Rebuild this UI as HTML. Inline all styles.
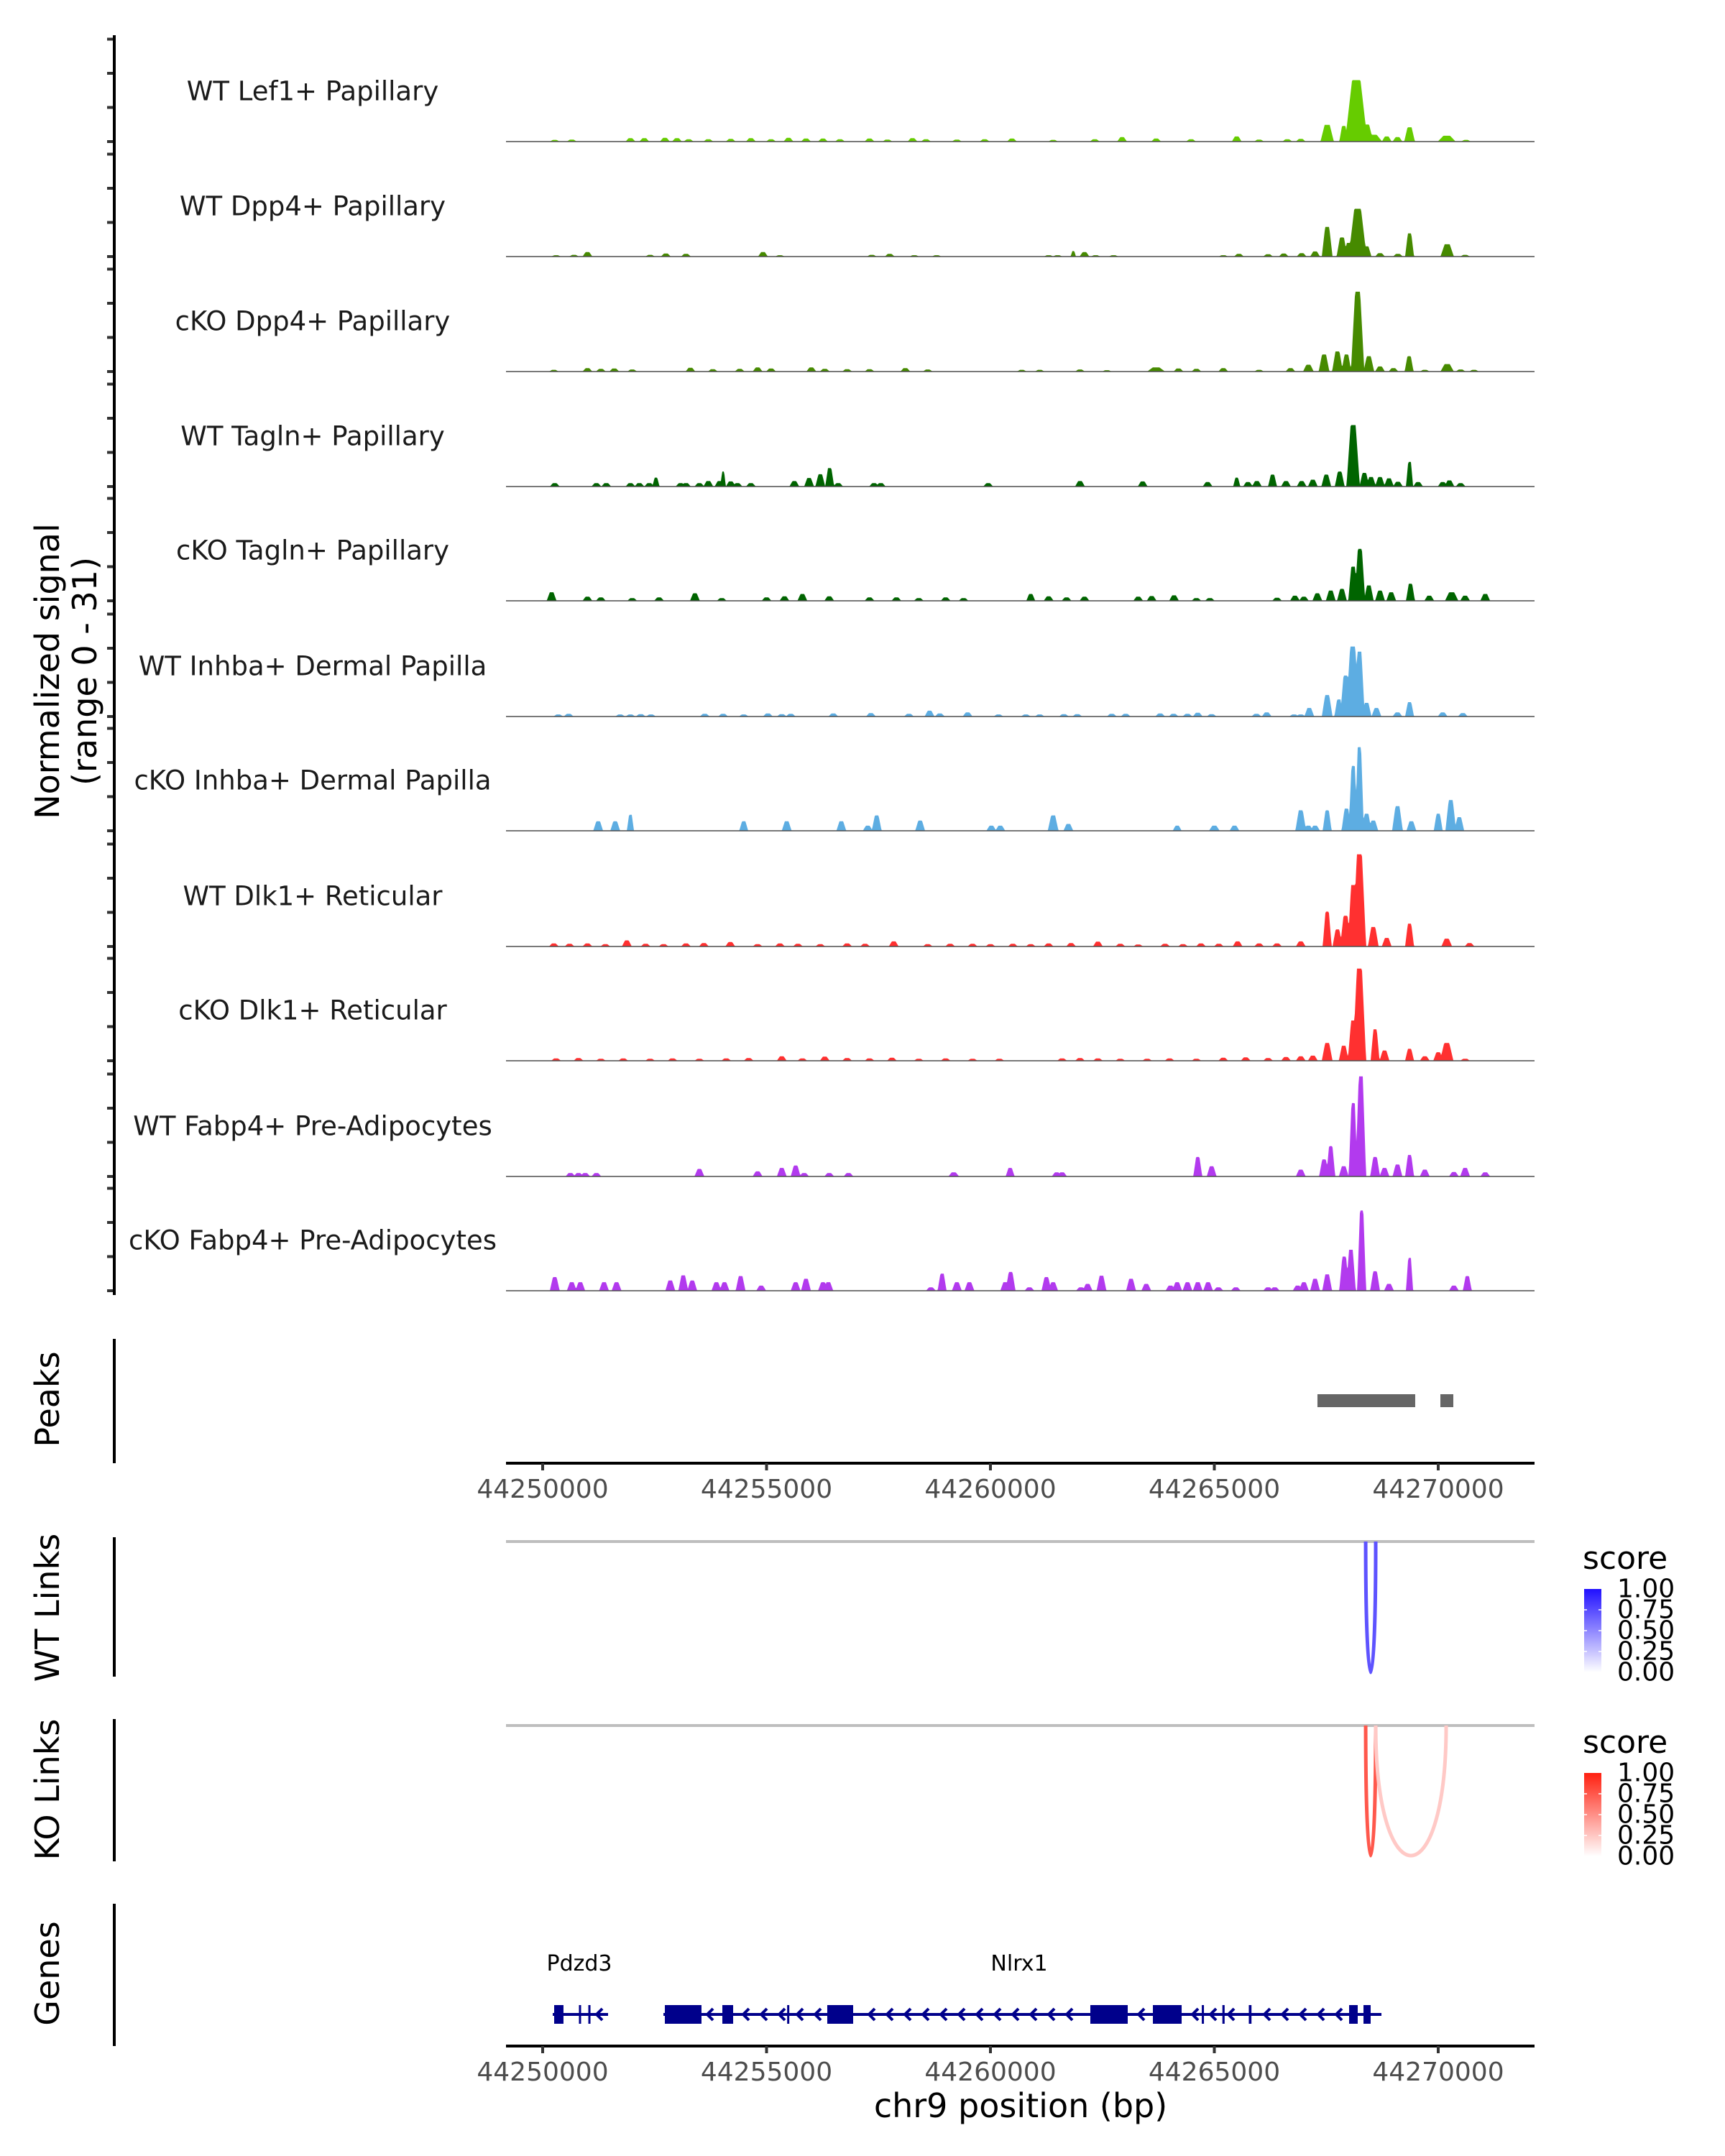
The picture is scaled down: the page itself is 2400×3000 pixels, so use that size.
<!DOCTYPE html>
<html><head><meta charset="utf-8">
<style>
html,body{margin:0;padding:0;background:#fff;}
svg{display:block;font-family:"DejaVu Sans","Liberation Sans",sans-serif;}
</style></head>
<body>
<svg id="chart" xmlns="http://www.w3.org/2000/svg" width="2400" height="3000" viewBox="0 0 2400 3000">
<rect x="0" y="0" width="2400" height="3000" fill="#fff"/>
<g id="tracks"></g>
<g id="left-axis"></g>
<text transform="translate(82,934) rotate(-90)" text-anchor="middle" font-size="46" fill="#000">Normalized signal</text>
<text transform="translate(134,934) rotate(-90)" text-anchor="middle" font-size="46" fill="#000">(range 0 - 31)</text>
<g id="peaks"></g>
<g id="xaxis1"></g>
<g id="links"></g>
<g id="genes"></g>
<g id="xaxis2"></g>
<text x="1420" y="2946" text-anchor="middle" font-size="46" fill="#000">chr9 position (bp)</text>
</svg>
<script>
// ---- data (positions in kb from 44,250,000; heights in normalized signal units) ----
const trackNames = ["WT Lef1+ Papillary","WT Dpp4+ Papillary","cKO Dpp4+ Papillary","WT Tagln+ Papillary","cKO Tagln+ Papillary","WT Inhba+ Dermal Papilla","cKO Inhba+ Dermal Papilla","WT Dlk1+ Reticular","cKO Dlk1+ Reticular","WT Fabp4+ Pre-Adipocytes","cKO Fabp4+ Pre-Adipocytes"];
const trackColors = ["#66cc00","#468a00","#468a00","#006400","#006400","#5dade2","#5dade2","#ff3030","#ff3030","#b23aee","#b23aee"];
const lef1Peaks = [[0.27,.5],[0.65,.6],[1.96,1],[2.27,1],[2.73,1.1],[3.0,1],[3.26,.7],[3.7,.7],[4.2,.8],[4.65,1],[5.1,.7],[5.49,1.1],[5.88,.9],[6.26,.9],[6.64,.7],[7.3,.9],[7.7,.6],[8.26,1],[8.56,.7],[9.25,.6],[9.87,.7],[10.48,.9],[11.4,.5],[12.33,.7],[12.94,1.3],[13.7,.9],[14.48,.7],[15.5,1.5],[16.0,.6],[16.63,.7],[16.93,.8],[17.52,4.9,.15],[17.89,4.6,.1],[18.17,18,.25],[18.4,5,.15],[18.55,2,.2],[18.85,1.5],[19.09,1.3],[19.36,4.2,.12],[20.19,1.7,.2],[20.62,.5]];
const wtDpp4Peaks = [[0.3,.4],[0.7,.5],[1.0,1.3],[2.4,.5],[2.75,.9],[3.2,.8],[4.92,1.3],[5.3,.4],[7.35,.5],[7.75,.8],[8.3,.4],[8.8,.4],[11.3,.4],[11.5,.4],[11.85,1.6,.06],[12.1,1.3],[12.35,.4],[12.75,.4],[15.2,.4],[15.55,.8],[16.2,.7],[16.55,.9],[16.95,1],[17.25,1.5],[17.52,8.7,.12],[17.85,5.6,.12],[18.0,4],[18.2,14,.2],[18.4,3],[18.7,1],[19.1,.8],[19.36,6.8,.1],[20.2,3.6,.15],[20.6,.5]];
const koDpp4Peaks = [[0.25,.5],[1.0,1],[1.3,.8],[1.6,.9],[2.0,.6],[3.3,1.1],[3.8,.7],[4.4,.8],[4.8,1.2],[5.1,.9],[6.0,1.2],[6.3,.8],[6.8,.7],[7.3,.7],[8.1,1],[8.6,.6],[10.7,.5],[11.1,.5],[12.0,.6],[12.6,.4],[13.7,1.2,.2],[14.2,.9],[14.6,.8],[15.2,1],[16.0,.5],[16.7,1],[17.1,2,.12],[17.45,5,.12],[17.75,5.9,.12],[17.95,5],[18.2,23.4,.15],[18.45,4.5,.12],[18.7,1.5],[19.0,1],[19.35,4.5,.1],[19.7,.5],[20.2,2.2,.15],[20.5,.6],[20.8,.5]];
const wtTaglnPeaks = [[0.27,1],[1.2,1],[1.42,1],[1.96,1],[2.16,1],[2.38,1],[2.53,2.6,.08],[3.08,1],[3.2,1],[3.5,1],[3.7,1.6],[3.95,1.6],[4.03,4.4,.06],[4.2,1.5],[4.35,1],[4.65,1],[5.62,1.6],[5.95,2.5],[6.2,3.6],[6.41,5.4,.1],[6.6,1],[7.4,1],[7.55,1],[9.95,1],[12.0,1.6],[13.4,1.5],[14.85,1.3],[15.5,2.6,.08],[15.75,1.3],[15.95,1.6],[16.3,3.5,.1],[16.6,1.6],[16.95,1.6],[17.2,2],[17.5,3.5],[17.8,4.4],[18.1,18,.15],[18.35,4],[18.5,2.8],[18.7,2.8],[18.9,2.4],[19.1,1.4],[19.36,7.2,.08],[19.55,1.3],[20.1,1.3],[20.25,1.8],[20.5,1]];
const koTaglnPeaks = [[0.2,2.5],[1.0,1.2],[1.3,1],[2.0,.8],[2.6,1],[3.4,2.2],[4.0,.8],[5.0,1],[5.4,1.3],[5.8,2],[6.4,1.3],[7.3,1],[7.9,1],[8.4,.8],[9.0,1],[9.4,.8],[10.9,2,.1],[11.3,1.3],[11.7,1],[12.1,1.2],[13.3,1.2],[13.6,1.4],[14.1,1.6],[14.6,.8],[14.9,.8],[16.4,.9],[16.8,1.5],[17.0,1.2],[17.3,2.2],[17.6,3],[17.85,3.5],[18.1,10],[18.25,15.2,.12],[18.45,4.5],[18.7,3],[18.95,2.5],[19.38,5,.1],[19.8,1.5],[20.3,2.5,.15],[20.6,1.5],[21.05,2]];
const wtInhbaPeaks = [[0.35,.6],[0.58,.8],[1.73,.6],[1.96,.6],[2.19,.7],[2.42,.6],[3.62,.8],[4.03,.8],[4.49,.6],[5.03,.9],[5.34,.7],[5.54,.8],[6.49,.9],[7.33,1],[8.18,.8],[8.64,1.7],[8.87,.9],[9.49,1.2],[10.18,.6],[10.79,.6],[11.1,.6],[11.64,.7],[11.94,.7],[12.71,.8],[13.02,.8],[13.79,.9],[14.09,.8],[14.4,.8],[14.63,1.1],[14.94,.7],[15.94,.8],[16.17,1.2],[16.78,.6],[16.93,.6],[17.12,2.5],[17.52,6.3,.12],[17.78,5,.1],[17.93,12,.12],[18.09,20.5,.15],[18.24,19,.12],[18.4,4],[18.62,2.5],[19.09,1.2],[19.36,4.2,.1],[20.1,1.2],[20.55,1]];
const koInhbaPeaks = [[1.24,2.8],[1.62,2.8],[1.96,4.7,.08],[4.49,2.8,.1],[5.45,2.8],[6.67,2.8],[7.26,1.5],[7.46,4.5],[8.43,3],[10.02,1.5],[10.22,1.5],[11.4,4.5,.12],[11.74,2],[14.17,1.5,.1],[15.0,1.5,.12],[15.45,1.5],[16.93,6,.12],[17.1,1.5],[17.25,1.5],[17.52,6,.1],[17.95,6.5],[18.1,19,.1],[18.24,24.5,.1],[18.4,5],[18.55,3],[19.09,7.2,.12],[19.4,2.8],[20.0,5,.1],[20.28,9,.12],[20.47,4]];
const wtDlk1Peaks = [[0.25,.9],[0.6,.8],[1.0,.9],[1.4,.7],[1.88,1.8],[2.3,.8],[2.7,.7],[3.2,.9],[3.6,1],[4.19,1.3],[4.8,.7],[5.3,.9],[5.7,.8],[6.2,.7],[6.8,.9],[7.2,.8],[7.84,1.5],[8.6,.7],[9.1,.8],[9.6,.8],[10.0,.7],[10.5,.8],[10.9,.7],[11.3,.9],[11.8,1],[12.4,1.4],[12.9,.8],[13.3,.6],[13.9,.8],[14.3,.7],[14.7,.9],[15.1,.8],[15.52,1.5],[16.0,.9],[16.4,.9],[16.93,1.5],[17.52,10.2,.1],[17.75,5],[17.93,9,.12],[18.1,18,.12],[18.24,27,.15],[18.55,5.7,.12],[18.85,2.5],[19.36,6.7,.1],[20.19,2.3,.12],[20.7,1]];
const koDlk1Peaks = [[0.3,.7],[0.8,.8],[1.3,.6],[1.8,.7],[2.4,.6],[2.9,.7],[3.5,.6],[4.1,.7],[4.6,.8],[5.34,1.3],[5.8,.7],[6.3,1.2],[6.8,.8],[7.3,.7],[7.8,.9],[8.4,.6],[9.0,.7],[9.6,.6],[10.2,.6],[11.6,.7],[12.0,.8],[12.4,.7],[12.9,.6],[13.5,.6],[14.0,.7],[14.6,.6],[15.2,.9],[15.7,1],[16.2,.8],[16.6,1.1],[16.93,1.3],[17.2,1.5],[17.52,5.2,.12],[17.89,4.4],[18.1,11.8,.12],[18.24,27,.15],[18.59,9.2,.1],[18.8,3],[19.36,3.5,.1],[19.7,1.3],[20.0,2.5],[20.19,5.2,.15],[20.6,.6]];
const wtFabp4Peaks = [[0.62,1],[0.8,1],[0.95,1],[1.2,1],[3.5,2.2],[4.8,1.5],[5.34,2.5],[5.65,3.2],[5.84,1],[6.4,1],[6.83,1],[9.18,1.2,.12],[10.44,2.5,.1],[11.48,1.2],[11.6,1.2],[14.63,5.7,.1],[14.94,3],[16.93,2],[17.45,5],[17.6,8.9,.1],[17.89,3],[18.1,21.5,.1],[18.27,29.3,.12],[18.59,5.7],[18.8,2.5],[19.09,3.5],[19.36,6.3,.1],[19.7,2],[20.35,1.3],[20.6,2.5],[21.05,1.2]];
const koFabp4Peaks = [[0.27,4],[0.65,2.5],[0.84,2.5],[1.37,2.5],[1.65,2.5],[2.85,3],[3.14,4.5],[3.34,3],[3.88,2.5],[4.06,2.5],[4.42,4.3],[4.88,1.5],[5.65,2.5],[5.88,3.5],[6.26,2.5],[6.38,2.5],[8.67,1],[8.92,5,.1],[9.25,2.5],[9.53,2.5],[10.33,2.5],[10.45,5.5],[10.87,1],[11.25,4],[11.4,2.5],[12.02,1],[12.17,2],[12.48,4.4],[13.14,3.5],[13.48,2],[14.02,1.5],[14.17,2.5],[14.4,2.5],[14.63,2.5],[14.86,2.5],[15.09,1],[15.48,1],[16.2,1],[16.35,1],[16.86,1.5],[17.0,2.5],[17.25,3.5],[17.52,4.8],[17.9,10],[18.05,12],[18.29,23.5,.1],[18.59,5.7],[18.9,2],[19.36,9.6,.08],[20.35,1.5],[20.65,4.3,.1]];
const trackPeaks = [lef1Peaks,wtDpp4Peaks,koDpp4Peaks,wtTaglnPeaks,koTaglnPeaks,wtInhbaPeaks,koInhbaPeaks,wtDlk1Peaks,koDlk1Peaks,wtFabp4Peaks,koFabp4Peaks];
const signalTicks = [0,10,20,30];
const xTicks = [44250000,44255000,44260000,44265000,44270000];
const peakRegions = [[44267303,44269486],[44270048,44270337]];
const wtLinks = [[44268380,44268604,0.72]];
const koLinks = [[44268380,44268604,0.75],[44268604,44270177,0.24]];
const legendTicks = ["1.00","0.75","0.50","0.25","0.00"];
const geneNames = ["Pdzd3","Nlrx1"];
const geneSpans = [[44250225,44251461],[44252697,44268732]];
const geneExons = [[[44250257,44250465],[44250810,44250840],[44251020,44251040]],[[44252729,44253547],[44254013,44254254],[44255460,44255500],[44256356,44256934],[44262231,44263066],[44263628,44264270],[44264720,44264760],[44265180,44265230],[44265770,44265830],[44268010,44268202],[44268331,44268491]]];

// ---- scales ----
const NS="http://www.w3.org/2000/svg";
const X0=704, X1=2135;
function xScale(bp){return 755+(bp-44250000)*0.0623;}
const UNIT=4.75;
const baselines=[197,357,517,677,836,997,1156,1317,1476,1637,1796];
function mk(tag,attrs,parent){const e=document.createElementNS(NS,tag);for(const k in attrs)e.setAttribute(k,attrs[k]);parent.appendChild(e);return e;}

// ---- tracks ----
const tg=document.getElementById('tracks');
const axg=document.getElementById('left-axis');
trackNames.forEach((name,i)=>{
  const base=baselines[i];
  const peaks=trackPeaks[i];
  let d='M'+X0+' '+base;
  for(let x=X0;x<=X1;x+=1){
    const kb=(x-755)/62.3;
    let v=0;
    for(const p of peaks){const w=(p[2]||0.11);const dd=Math.abs(kb-p[0]);if(dd<w){const q=1-dd/w;const s=p[1]*Math.min(1,q*1.6);if(s>v)v=s;}}
    d+=' L'+x+' '+(base-v*UNIT).toFixed(1);
  }
  d+=' L'+X1+' '+base+' Z';
  const area=mk('path',{d:d,fill:trackColors[i],stroke:'none'},tg);
  
  
  const bl=mk('line',{x1:X0,x2:X1,y1:base,y2:base,stroke:'#4d4d4d','stroke-width':1.6},tg);
  
  
  const t=mk('text',{x:435,y:base-70,'text-anchor':'middle','dominant-baseline':'central','font-size':37,fill:'#1a1a1a'},tg);
  t.textContent=name;
  
  
  signalTicks.forEach(v=>{
    const tk=mk('line',{x1:149,x2:159,y1:base-v*UNIT,y2:base-v*UNIT,stroke:'#333','stroke-width':4},axg);
    
    
  });
});
const ax=mk('line',{x1:159,x2:159,y1:49,y2:1802,stroke:'#000','stroke-width':4},axg);



// ---- panel labels and axis lines ----
const panels=[["Peaks",1863,2036,1947],["WT Links",2139,2333,2237],["KO Links",2392,2590,2490],["Genes",2649,2847,2746]];
panels.forEach(p=>{
  const l=mk('line',{x1:159,x2:159,y1:p[1],y2:p[2],stroke:'#000','stroke-width':4},document.getElementById('links'));
  
  
  const t=mk('text',{transform:'translate(82,'+p[3]+') rotate(-90)','text-anchor':'middle','font-size':46,fill:'#000'},document.getElementById('links'));
  t.textContent=p[0];
  
  
});

// ---- peaks ----
const pg=document.getElementById('peaks');
peakRegions.forEach(r=>{
  const rc=mk('rect',{x:xScale(r[0]),y:1940,width:xScale(r[1])-xScale(r[0]),height:18,fill:'#666'},pg);
  
  
});

// ---- x axes ----
function drawAxis(g,y){
  const l=mk('line',{x1:X0,x2:X1,y1:y,y2:y,stroke:'#000','stroke-width':4},g);
  
  
  xTicks.forEach(v=>{
    const x=xScale(v);
    const tk=mk('line',{x1:x,x2:x,y1:y,y2:y+10,stroke:'#333','stroke-width':4},g);
    
    
    const t=mk('text',{x:x,y:y+48,'text-anchor':'middle','font-size':36,fill:'#4d4d4d'},g);
    t.textContent=v;
    
    
  });
}
drawAxis(document.getElementById('xaxis1'),2036);
drawAxis(document.getElementById('xaxis2'),2847);

// ---- links ----
const lg=document.getElementById('links');
function linkColor(s,hi){
  const r=Math.round(255+(hi[0]-255)*s),g=Math.round(255+(hi[1]-255)*s),b=Math.round(255+(hi[2]-255)*s);
  return 'rgb('+r+','+g+','+b+')';
}
function drawLinks(links,top,bottom,hi,legendY,gid){
  const gl=mk('line',{x1:X0,x2:X1,y1:top,y2:top,stroke:'#bebebe','stroke-width':4},lg);
  
  
  links.forEach(k=>{
    const a=xScale(k[0]),b=xScale(k[1]);
    const ext=(bottom-top)*4/3;
    const p=mk('path',{d:'M'+a+' '+top+' C'+a+' '+(top+ext)+' '+b+' '+(top+ext)+' '+b+' '+top,fill:'none',stroke:linkColor(k[2],hi),'stroke-width':5},lg);
    
    
  });
  const defs=mk('defs',{},lg);
  const gr=mk('linearGradient',{id:gid,x1:0,y1:1,x2:0,y2:0},defs);
  mk('stop',{offset:0,'stop-color':'#fff'},gr);
  mk('stop',{offset:1,'stop-color':linkColor(1,hi)},gr);
  const st=mk('text',{x:2202,y:legendY-28,'font-size':44,fill:'#000'},lg);
  st.textContent='score';
  
  
  const bar=mk('rect',{x:2204,y:legendY,width:24,height:116,fill:'url(#'+gid+')'},lg);
  
  
  legendTicks.forEach((t,i)=>{
    const y=legendY+i*29;
    if(i>0&&i<4){mk('line',{x1:2204,x2:2208,y1:y,y2:y,stroke:'#fff','stroke-width':1.5},lg);mk('line',{x1:2224,x2:2228,y1:y,y2:y,stroke:'#fff','stroke-width':1.5},lg);}
    const tx=mk('text',{x:2250,y:y,'dominant-baseline':'central','font-size':36,fill:'#000'},lg);
    tx.textContent=t;
    
    
  });
}
drawLinks(wtLinks,2145,2327,[32,16,255],2211,'gradBlue');
drawLinks(koLinks,2401,2582,[255,32,16],2467,'gradRed');

// ---- genes ----
const gg=document.getElementById('genes');
const GY=2803, GC='#00008b';
geneNames.forEach((n,i)=>{
  const sp=geneSpans[i];
  const a=xScale(sp[0]),b=xScale(sp[1]);
  const ln=mk('line',{x1:a,x2:b,y1:GY,y2:GY,stroke:GC,'stroke-width':4},gg);
  
  
  const ex=geneExons[i].map(e=>[xScale(e[0]),xScale(e[1])]);
  for(let x=a+14;x<b-6;x+=25){
    if(ex.some(e=>x>e[0]-8&&x<e[1]+8))continue;
    const c=mk('polyline',{points:(x+5)+','+(GY-8)+' '+(x-3)+','+GY+' '+(x+5)+','+(GY+8),fill:'none',stroke:GC,'stroke-width':4},gg);
    
    
  }
  ex.forEach(e=>{
    const r=mk('rect',{x:e[0],y:GY-13,width:Math.max(3,e[1]-e[0]),height:26,fill:GC},gg);
    
    
  });
  const t=mk('text',{x:(i===0?806:1418),y:2742,'text-anchor':'middle','font-size':30,fill:'#000'},gg);
  t.textContent=n;
  
  
});
</script>
</body></html>
